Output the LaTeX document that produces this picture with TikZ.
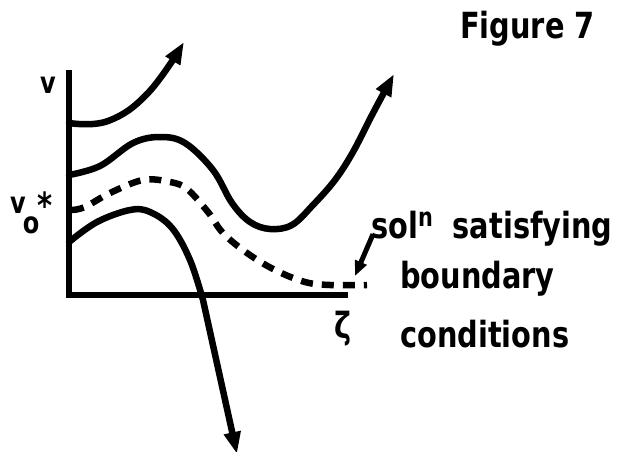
\documentclass[tikz,border=0pt]{standalone}
\usepackage{fontspec}
\setmainfont{DejaVu Sans}
\newfontfamily\letterfont[FakeStretch=0.8]{DejaVu Sans Bold}
\usetikzlibrary{arrows.meta}
\begin{document}
\begin{tikzpicture}[x=1pt,y=-1pt,
  curve/.style={line width=6.5pt,line cap=round,line join=round},
  tip/.style={-{Triangle[length=22pt,width=16pt]}},
  lbl/.style={inner sep=0pt,font=\letterfont\fontsize{36}{40}\selectfont},
  smalllbl/.style={inner sep=0pt,font=\letterfont\fontsize{30}{34}\selectfont}]
\useasboundingbox (0,0) rectangle (618,452);
% axes
\coordinate (otop) at (69,70);
\coordinate (orig) at (69,295);
\coordinate (xend) at (348,295);
\draw[line width=6.5pt] (otop) -- (orig.center) -- (xend);
% top curve
\draw[curve,tip] plot[smooth,tension=0.7] coordinates {(69,123) (108,121) (148,93) (184,42)};
% second curve
\draw[curve,tip] plot[smooth,tension=0.6] coordinates {(69,175) (100,166) (133,143) (160,137) (185,143) (213,170) (232,203) (250,222) (270,229) (292,225) (313,205) (335,180) (353,152) (372,115) (394,74)};
% dashed curve
\draw[curve,line cap=butt,dash pattern=on 12pt off 9pt] plot[smooth,tension=0.6] coordinates {(72,210) (85,207) (110,193) (143,180) (170,182) (187,189) (208,212) (223,233) (247,253) (275,270) (305,282) (330,285) (367,285)};
% bottom curve
\coordinate (bend) at (237,454);
\draw[curve,tip] plot[smooth,tension=0.6] coordinates {(69,242) (97,222) (130,210) (150,212) (172,228) (190,260) (203,300)} -- (bend);
% labels
\node[lbl,anchor=base west] (fig) at (460,38) {Figure 7};
\node[smalllbl,anchor=base] (vlab) at (48,93) {v};
\node[smalllbl,anchor=base] (v0) at (18,213) {v};
\node[smalllbl,anchor=center] (v0sub) at (31,225) {o};
\node[lbl,anchor=center] (v0star) at (45,205) {*};
\node[lbl,anchor=base west] (soln) at (371,238) {sol\raisebox{12pt}{\fontsize{26}{28}\selectfont n}\hspace{20pt}satisfying};
\node[lbl,anchor=base west] (bnd) at (400,288) {boundary};
\node[lbl,anchor=base west] (cond) at (400,347) {conditions};
\node[lbl,anchor=center] (zeta) at (343,329) {ζ};
\coordinate (ptip) at (355,276);
\draw[line width=5pt,-{Triangle[length=15pt,width=12pt]}] (soln.west) ++(2,6) coordinate (pst) -- (ptip);
\end{tikzpicture}
\end{document}
